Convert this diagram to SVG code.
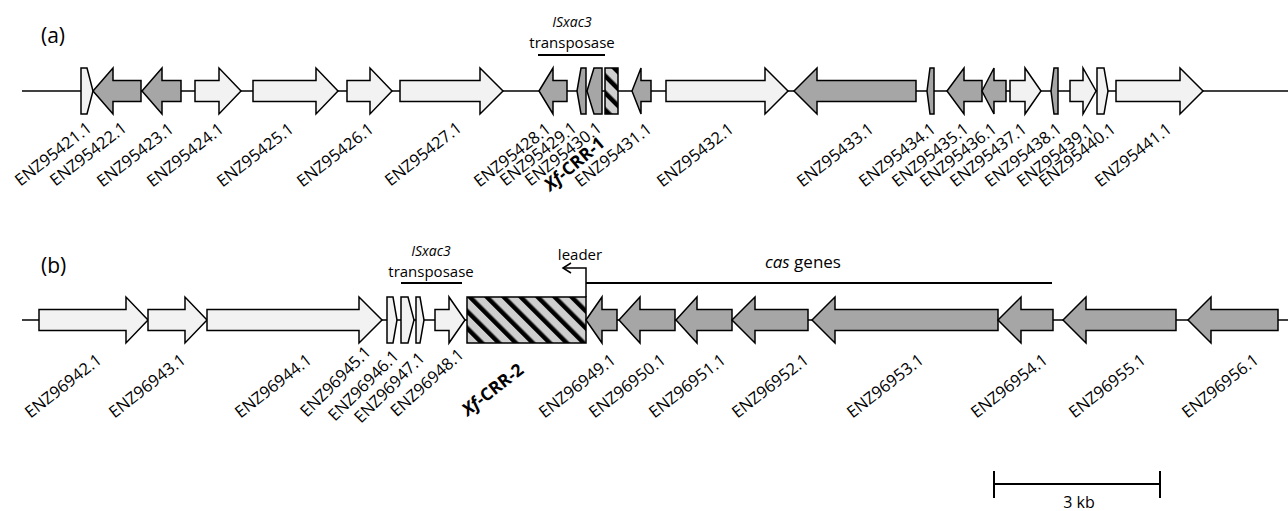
<svg xmlns="http://www.w3.org/2000/svg" width="1288" height="511" viewBox="0 0 1288 511">
<style>
.bb{stroke:#000;stroke-width:1.5;fill:none}
.lt{fill:#f2f2f2;stroke:#000;stroke-width:1.5;stroke-linejoin:miter}
.dk{fill:#a6a6a6;stroke:#000;stroke-width:1.5;stroke-linejoin:miter}
.hx{fill:url(#hatch);stroke:#000;stroke-width:1.5}
.ln{stroke:#000;stroke-width:2;fill:none}
.lbl{font-family:"Open Sans","Liberation Sans",sans-serif;font-size:16.5px;text-anchor:end;fill:#000}
.crr{font-family:"Open Sans","Liberation Sans",sans-serif;font-size:17.5px;font-weight:bold;text-anchor:end;fill:#000}
.t{font-family:"Open Sans","Liberation Sans",sans-serif;fill:#000}
</style>
<defs>
<pattern id="hatch" patternUnits="userSpaceOnUse" width="12" height="12" patternTransform="rotate(-45)">
<rect width="12" height="12" fill="#cfcfcf"/>
<rect width="4.5" height="12" fill="#000"/>
</pattern>
</defs>
<rect width="1288" height="511" fill="#fff"/>

<!-- panel labels -->
<text class="t" x="41" y="43" font-size="21">(a)</text>
<text class="t" x="41" y="273" font-size="21">(b)</text>

<!-- connectors: backbones, annotation bars, leader, scale -->
<g id="connectors">
<line class="bb" x1="22" y1="91" x2="1288" y2="91"/>
<line class="bb" x1="22" y1="320" x2="1288" y2="320"/>
<line class="ln" x1="538" y1="55" x2="605" y2="55"/>
<line class="ln" x1="401" y1="283" x2="462" y2="283"/>
<path class="bb" d="M586,297 V268 H563"/>
<path class="bb" d="M571,263 L563,268 L571,273"/>
<line class="ln" x1="586" y1="283" x2="1052" y2="283"/>
<g id="scalebar">
<line class="ln" x1="994" y1="484" x2="1160" y2="484"/>
<line class="ln" x1="994" y1="471" x2="994" y2="498"/>
<line class="ln" x1="1160" y1="471" x2="1160" y2="498"/>
<text class="t" x="1079" y="508" font-size="16" text-anchor="middle">3 kb</text>
</g>
</g>

<!-- annotations -->
<g id="is-a">
<text class="t" x="572" y="27" font-size="14" font-style="italic" text-anchor="middle">ISxac3</text>
<text class="t" x="572" y="48" font-size="15" text-anchor="middle">transposase</text>
</g>
<g id="is-b">
<text class="t" x="431" y="256" font-size="14" font-style="italic" text-anchor="middle">ISxac3</text>
<text class="t" x="431" y="277" font-size="15" text-anchor="middle">transposase</text>
</g>
<text class="t" x="580" y="260" font-size="15" text-anchor="middle">leader</text>
<text class="t" x="803" y="268" font-size="17" text-anchor="middle"><tspan font-style="italic">cas</tspan> genes</text>

<!-- row (a) -->
<g id="ENZ95421"><polygon class="lt" points="81,68 87,68 93,91 87,114 81,114"/><text class="lbl" transform="translate(93,130) rotate(-38)">ENZ95421.1</text></g>
<g id="ENZ95422"><polygon class="dk" points="93,91 113,68 113,80.5 141,80.5 141,101.5 113,101.5 113,114"/><text class="lbl" transform="translate(128,130) rotate(-38)">ENZ95422.1</text></g>
<g id="ENZ95423"><polygon class="dk" points="142,91 162,68 162,80.5 181,80.5 181,101.5 162,101.5 162,114"/><text class="lbl" transform="translate(175,131) rotate(-38)">ENZ95423.1</text></g>
<g id="ENZ95424"><polygon class="lt" points="195,80.5 219,80.5 219,68 241,91 219,114 219,101.5 195,101.5"/><text class="lbl" transform="translate(225,131) rotate(-38)">ENZ95424.1</text></g>
<g id="ENZ95425"><polygon class="lt" points="253,80.5 316,80.5 316,68 338,91 316,114 316,101.5 253,101.5"/><text class="lbl" transform="translate(295,131) rotate(-38)">ENZ95425.1</text></g>
<g id="ENZ95426"><polygon class="lt" points="347,80.5 370,80.5 370,68 392,91 370,114 370,101.5 347,101.5"/><text class="lbl" transform="translate(375,131) rotate(-38)">ENZ95426.1</text></g>
<g id="ENZ95427"><polygon class="lt" points="400,80.5 480,80.5 480,68 503,91 480,114 480,101.5 400,101.5"/><text class="lbl" transform="translate(463,130) rotate(-38)">ENZ95427.1</text></g>
<g id="ENZ95428"><polygon class="dk" points="539,91 553,68 553,80.5 567,80.5 567,101.5 553,101.5 553,114"/><text class="lbl" transform="translate(552,131) rotate(-38)">ENZ95428.1</text></g>
<g id="ENZ95429"><polygon class="dk" points="577,91 581,68 586,68 586,114 581,114"/><text class="lbl" transform="translate(578,130) rotate(-38)">ENZ95429.1</text></g>
<g id="ENZ95430"><polygon class="dk" points="587,91 594,68 602,68 602,114 594,114"/><text class="lbl" transform="translate(603,130) rotate(-38)">ENZ95430.1</text></g>
<g id="XfCRR1"><rect class="hx" x="605" y="68" width="13" height="46"/><text class="crr" transform="translate(606,145) rotate(-40)"><tspan font-style="italic">Xf</tspan>-CRR-1</text></g>
<g id="ENZ95431"><polygon class="dk" points="632,91 641,68 641,80.5 651,80.5 651,101.5 641,101.5 641,114"/><text class="lbl" transform="translate(653,131) rotate(-38)">ENZ95431.1</text></g>
<g id="ENZ95432"><polygon class="lt" points="666,80.5 765,80.5 765,68 788,91 765,114 765,101.5 666,101.5"/><text class="lbl" transform="translate(735,131) rotate(-38)">ENZ95432.1</text></g>
<g id="ENZ95433"><polygon class="dk" points="794,91 817,68 817,80.5 916,80.5 916,101.5 817,101.5 817,114"/><text class="lbl" transform="translate(875,131) rotate(-38)">ENZ95433.1</text></g>
<g id="ENZ95434"><polygon class="dk" points="927,91 930,68 934,68 934,114 930,114"/><text class="lbl" transform="translate(937,131) rotate(-38)">ENZ95434.1</text></g>
<g id="ENZ95435"><polygon class="dk" points="947,91 964,68 964,80.5 982,80.5 982,101.5 964,101.5 964,114"/><text class="lbl" transform="translate(970,131) rotate(-38)">ENZ95435.1</text></g>
<g id="ENZ95436"><polygon class="dk" points="982,91 994,68 994,80.5 1006,80.5 1006,101.5 994,101.5 994,114"/><text class="lbl" transform="translate(998,131) rotate(-38)">ENZ95436.1</text></g>
<g id="ENZ95437"><polygon class="lt" points="1010,80.5 1025,80.5 1025,68 1041,91 1025,114 1025,101.5 1010,101.5"/><text class="lbl" transform="translate(1028,131) rotate(-38)">ENZ95437.1</text></g>
<g id="ENZ95438"><polygon class="dk" points="1051,91 1054,68 1058,68 1058,114 1054,114"/><text class="lbl" transform="translate(1063,131) rotate(-38)">ENZ95438.1</text></g>
<g id="ENZ95439"><polygon class="lt" points="1070,80.5 1083,80.5 1083,68 1096,91 1083,114 1083,101.5 1070,101.5"/><text class="lbl" transform="translate(1095,131) rotate(-38)">ENZ95439.1</text></g>
<g id="ENZ95440"><polygon class="lt" points="1097,68 1104,68 1108,91 1104,114 1097,114"/><text class="lbl" transform="translate(1117,131) rotate(-38)">ENZ95440.1</text></g>
<g id="ENZ95441"><polygon class="lt" points="1116,80.5 1180,80.5 1180,68 1203,91 1180,114 1180,101.5 1116,101.5"/><text class="lbl" transform="translate(1173,131) rotate(-38)">ENZ95441.1</text></g>

<!-- row (b) -->
<g id="ENZ96942"><polygon class="lt" points="39,309.5 126,309.5 126,297 148,320 126,343 126,330.5 39,330.5"/><text class="lbl" transform="translate(103,362) rotate(-38)">ENZ96942.1</text></g>
<g id="ENZ96943"><polygon class="lt" points="148,309.5 185,309.5 185,297 207,320 185,343 185,330.5 148,330.5"/><text class="lbl" transform="translate(187,362) rotate(-38)">ENZ96943.1</text></g>
<g id="ENZ96944"><polygon class="lt" points="207,309.5 359,309.5 359,297 382,320 359,343 359,330.5 207,330.5"/><text class="lbl" transform="translate(313,362) rotate(-38)">ENZ96944.1</text></g>
<g id="ENZ96945"><polygon class="lt" points="387,297 393,297 397,320 393,343 387,343"/><text class="lbl" transform="translate(372,353) rotate(-45)">ENZ96945.1</text></g>
<g id="ENZ96946"><polygon class="lt" points="401,297 408,297 414,320 408,343 401,343"/><text class="lbl" transform="translate(400,357) rotate(-45)">ENZ96946.1</text></g>
<g id="ENZ96947"><polygon class="lt" points="416,297 420,297 424,320 420,343 416,343"/><text class="lbl" transform="translate(426,359) rotate(-45)">ENZ96947.1</text></g>
<g id="ENZ96948"><polygon class="lt" points="435,309.5 449,309.5 449,297 465,320 449,343 449,330.5 435,330.5"/><text class="lbl" transform="translate(465,356) rotate(-42)">ENZ96948.1</text></g>
<g id="XfCRR2"><rect class="hx" x="467" y="297" width="119" height="46"/><text class="crr" transform="translate(525,372) rotate(-38)"><tspan font-style="italic">Xf</tspan>-CRR-2</text></g>
<g id="ENZ96949"><polygon class="dk" points="586,320 602,297 602,309.5 617,309.5 617,330.5 602,330.5 602,343"/><text class="lbl" transform="translate(617,362) rotate(-38)">ENZ96949.1</text></g>
<g id="ENZ96950"><polygon class="dk" points="619,320 640,297 640,309.5 675,309.5 675,330.5 640,330.5 640,343"/><text class="lbl" transform="translate(667,362) rotate(-38)">ENZ96950.1</text></g>
<g id="ENZ96951"><polygon class="dk" points="676,320 697,297 697,309.5 732,309.5 732,330.5 697,330.5 697,343"/><text class="lbl" transform="translate(727,362) rotate(-38)">ENZ96951.1</text></g>
<g id="ENZ96952"><polygon class="dk" points="732,320 755,297 755,309.5 808,309.5 808,330.5 755,330.5 755,343"/><text class="lbl" transform="translate(810,362) rotate(-38)">ENZ96952.1</text></g>
<g id="ENZ96953"><polygon class="dk" points="812,320 835,297 835,309.5 998,309.5 998,330.5 835,330.5 835,343"/><text class="lbl" transform="translate(925,362) rotate(-38)">ENZ96953.1</text></g>
<g id="ENZ96954"><polygon class="dk" points="998,320 1021,297 1021,309.5 1053,309.5 1053,330.5 1021,330.5 1021,343"/><text class="lbl" transform="translate(1049,362) rotate(-38)">ENZ96954.1</text></g>
<g id="ENZ96955"><polygon class="dk" points="1063,320 1086,297 1086,309.5 1176,309.5 1176,330.5 1086,330.5 1086,343"/><text class="lbl" transform="translate(1147,362) rotate(-38)">ENZ96955.1</text></g>
<g id="ENZ96956"><polygon class="dk" points="1188,320 1211,297 1211,309.5 1278,309.5 1278,330.5 1211,330.5 1211,343"/><text class="lbl" transform="translate(1260,362) rotate(-38)">ENZ96956.1</text></g>
</svg>
